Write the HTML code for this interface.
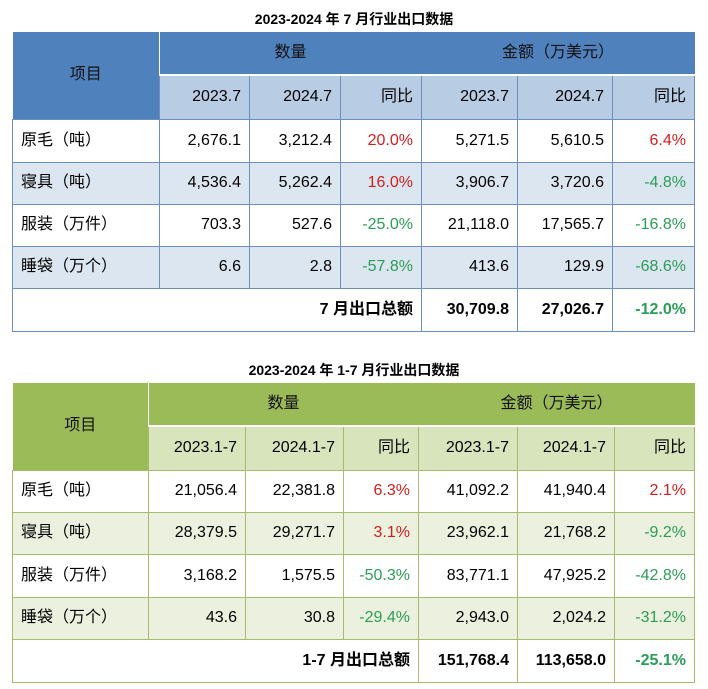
<!DOCTYPE html>
<html><head><meta charset="utf-8"><style>
body{margin:0;width:708px;height:689px;background:#fff;position:relative;font-family:"Liberation Sans","Noto Sans CJK SC",sans-serif;overflow:hidden}
.t{position:absolute;left:12px;border-collapse:collapse;table-layout:fixed;font-size:16px;color:#000}
.t td{padding:0 8px 0 8px;text-align:right;white-space:nowrap;overflow:hidden;vertical-align:middle;line-height:18px}
.title{position:absolute;width:708px;text-align:center;font-weight:bold;font-size:14px}
.b td{border:1px solid #6d8fbd}
.b td.h1{background:#4f81bd;border:none;text-align:center;color:#111}
.b .h2 td{background:#b8cce4;border-top:2px solid #fff}
.b .a td{background:#dce6f1}
.g td{border:1px solid #a3bd6a}
.g td.h1{background:#9bbb59;border:none;text-align:center;color:#111}
.g .h2 td{background:#d8e4bc;border-top:2px solid #fff}
.g .a td{background:#ebf1de}
td.l{text-align:left}
.r{color:#d0201e}.gr{color:#2a9d56}
.tot td{font-weight:bold}
</style></head><body>
<div class="title" style="top:9px">2023-2024 年 7 月行业出口数据</div>
<table class="t b" style="top:32px">
<colgroup><col style="width:147px"><col style="width:90px"><col style="width:91px"><col style="width:81px"><col style="width:96px"><col style="width:95px"><col style="width:82px"></colgroup>
<tr style="height:43px"><td class="h1" rowspan="2">项目</td><td class="h1" colspan="3">数量</td><td class="h1" colspan="3">金额（万美元）</td></tr>
<tr class="h2" style="height:44px"><td>2023.7</td><td>2024.7</td><td>同比</td><td>2023.7</td><td>2024.7</td><td>同比</td></tr>
<tr style="height:43px"><td class="l">原毛（吨）</td><td>2,676.1</td><td>3,212.4</td><td class="r">20.0%</td><td>5,271.5</td><td>5,610.5</td><td class="r">6.4%</td></tr>
<tr class="a" style="height:42px"><td class="l">寝具（吨）</td><td>4,536.4</td><td>5,262.4</td><td class="r">16.0%</td><td>3,906.7</td><td>3,720.6</td><td class="gr">-4.8%</td></tr>
<tr style="height:42px"><td class="l">服装（万件）</td><td>703.3</td><td>527.6</td><td class="gr">-25.0%</td><td>21,118.0</td><td>17,565.7</td><td class="gr">-16.8%</td></tr>
<tr class="a" style="height:42px"><td class="l">睡袋（万个）</td><td>6.6</td><td>2.8</td><td class="gr">-57.8%</td><td>413.6</td><td>129.9</td><td class="gr">-68.6%</td></tr>
<tr class="tot" style="height:43px"><td colspan="4">7 月出口总额</td><td>30,709.8</td><td>27,026.7</td><td class="gr">-12.0%</td></tr>
</table>
<div class="title" style="top:360px">2023-2024 年 1-7 月行业出口数据</div>
<table class="t g" style="top:383px">
<colgroup><col style="width:136px"><col style="width:97px"><col style="width:98px"><col style="width:75px"><col style="width:99px"><col style="width:97px"><col style="width:80px"></colgroup>
<tr style="height:43px"><td class="h1" rowspan="2">项目</td><td class="h1" colspan="3">数量</td><td class="h1" colspan="3">金额（万美元）</td></tr>
<tr class="h2" style="height:44px"><td>2023.1-7</td><td>2024.1-7</td><td>同比</td><td>2023.1-7</td><td>2024.1-7</td><td>同比</td></tr>
<tr style="height:42px"><td class="l">原毛（吨）</td><td>21,056.4</td><td>22,381.8</td><td class="r">6.3%</td><td>41,092.2</td><td>41,940.4</td><td class="r">2.1%</td></tr>
<tr class="a" style="height:42px"><td class="l">寝具（吨）</td><td>28,379.5</td><td>29,271.7</td><td class="r">3.1%</td><td>23,962.1</td><td>21,768.2</td><td class="gr">-9.2%</td></tr>
<tr style="height:43px"><td class="l">服装（万件）</td><td>3,168.2</td><td>1,575.5</td><td class="gr">-50.3%</td><td>83,771.1</td><td>47,925.2</td><td class="gr">-42.8%</td></tr>
<tr class="a" style="height:42px"><td class="l">睡袋（万个）</td><td>43.6</td><td>30.8</td><td class="gr">-29.4%</td><td>2,943.0</td><td>2,024.2</td><td class="gr">-31.2%</td></tr>
<tr class="tot" style="height:43px"><td colspan="4">1-7 月出口总额</td><td>151,768.4</td><td>113,658.0</td><td class="gr">-25.1%</td></tr>
</table>
</body></html>
